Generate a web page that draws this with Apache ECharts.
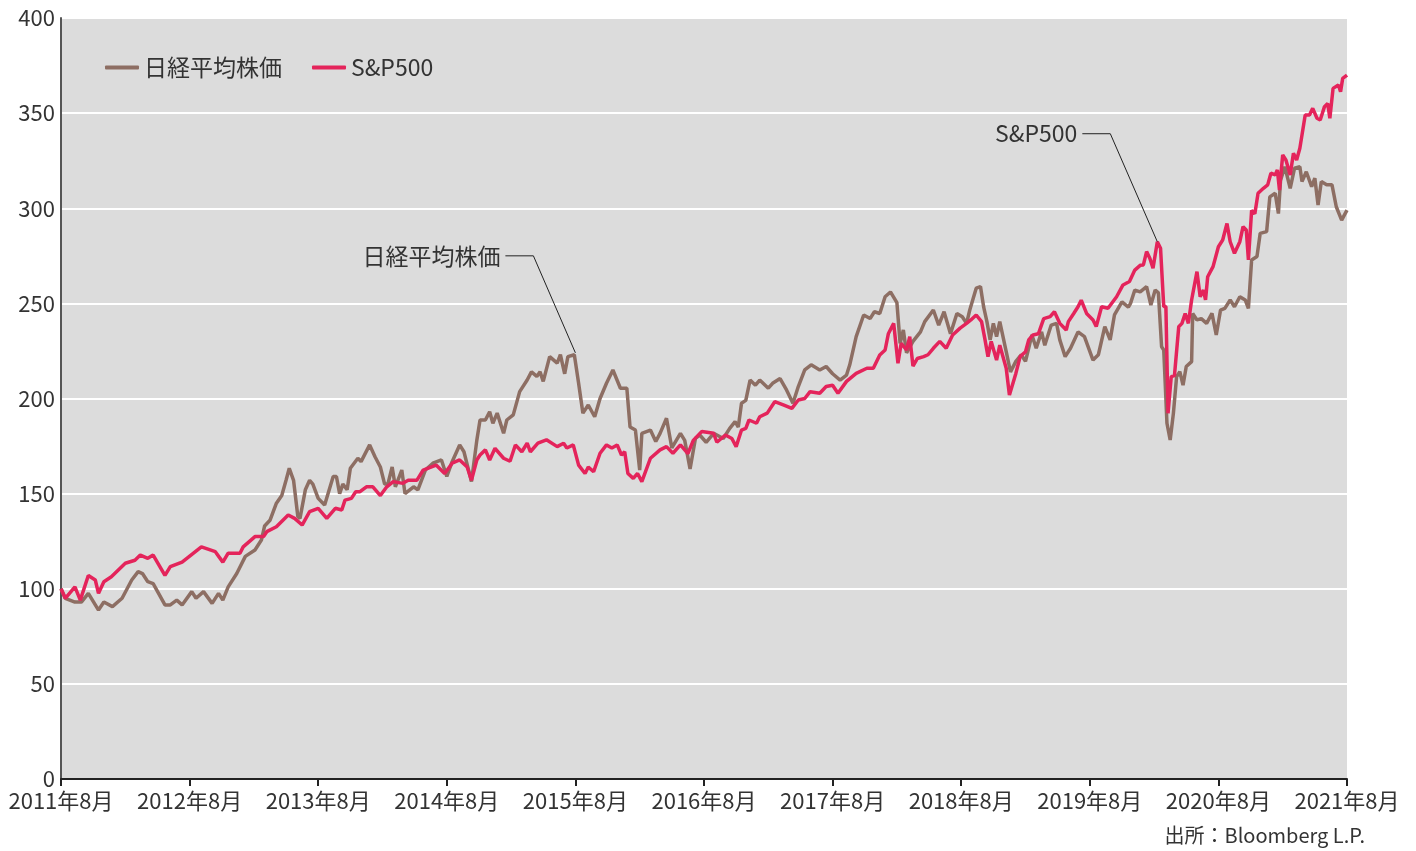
<!DOCTYPE html>
<html>
<head>
<meta charset="utf-8">
<script src="https://cdn.jsdelivr.net/npm/echarts@6/dist/echarts.min.js"></script>
<style>
  html, body { margin: 0; padding: 0; background: #ffffff; }
  #chart { width: 1416px; height: 851px; }
</style>
</head>
<body>
<div id="chart"></div>
<script>
// x = months since 2011年8月, y = index (2011年8月 = 100)
const nikkeiPoints = [
  [0,100],[0.4,95],[1.3,93],[1.9,93],[2.55,97.6],[3.5,88.8],[4,93],[4.8,90.6],[5.7,95],[6.6,104.6],
  [7.2,109],[7.6,108],[8.1,103.7],[8.6,102.7],[9.7,91.5],[10.2,91.5],[10.8,94],[11.3,91.5],[12.2,98.5],[12.6,95],
  [13.3,98.5],[14.1,92.3],[14.7,97.6],[15.1,94],[15.6,101],[16.4,108],[17.2,117],[18.1,120.4],[18.7,125.6],[19,133],
  [19.5,136],[20.1,145],[20.6,149],[21,157],[21.3,163.3],[21.7,157],[22.1,138],[22.3,137],[22.8,152],[23.2,157],
  [23.5,155],[24,147.5],[24.6,144],[25.4,159],[25.7,159],[26,150],[26.3,155],[26.7,152],[27,163.3],[27.7,168.6],
  [28,166.8],[28.8,175.6],[29.3,169.4],[29.8,164],[30.2,155],[30.5,155],[30.9,164],[31.2,153.6],[31.8,162.4],[32.1,150],
  [32.9,153.6],[33.3,152],[34,162.4],[34.7,166],[35.5,167.7],[36,159],[36.5,166.8],[37.2,175.6],[37.6,172],[38.3,156.3],
  [38.8,178],[39.1,188.7],[39.6,188.7],[40,193],[40.3,187],[40.7,192.3],[41.3,181.7],[41.6,188.7],[42.2,191.4],[42.8,203.6],
  [43.5,209.7],[43.9,214],[44.4,211.6],[44.7,214],[45,209],[45.6,222],[46.3,218.6],[46.6,223],[47,213],[47.3,222],
  [47.9,223],[48.3,208],[48.7,192.3],[49.2,196.6],[49.8,190.4],[50.3,200],[50.9,208],[51.5,215],[52.2,205.4],[52.8,205.4],
  [53.1,185],[53.6,183.4],[54,162.4],[54.2,181.7],[55,183.4],[55.5,177.4],[55.9,181.7],[56.5,189.6],[57,174],[57.8,181.7],
  [58.2,178],[58.7,163],[59.2,179],[59.6,180.8],[60.2,177],[60.9,181.7],[61.8,179],[62.4,184.3],[62.9,187.8],[63.2,185],
  [63.5,197.5],[63.9,199],[64.3,209.7],[64.8,207],[65.2,209.7],[66,205.4],[66.4,208],[67.1,210.5],[67.7,204.5],[68.3,197.5],
  [68.8,206.3],[69.4,215],[70,217.7],[70.8,215],[71.4,216.8],[72,213],[72.7,209.7],[73.3,212.3],[73.6,217.7],[74.2,232.5],
  [74.9,243.9],[75.5,242],[75.9,245.6],[76.4,244.7],[76.9,253.5],[77.4,256],[78,250.4],[78.3,229],[78.6,236],[78.9,224],
  [79.5,230],[80.2,235],[80.6,240.4],[81.4,246.5],[81.9,238.6],[82.4,245.6],[83,234],[83.6,244.7],[84.1,243],[84.5,239.5],
  [84.8,246.5],[85.4,258],[85.8,258.8],[86.1,248],[86.4,240.4],[86.7,230.8],[87,239.5],[87.3,232.5],[87.6,240.4],[88.2,224.6],
  [88.6,214],[89.1,219.5],[89.6,223],[90,219.5],[90.6,233.4],[91,226.4],[91.5,235],[91.8,228],[92.4,238.6],[92.9,239.5],
  [93.2,230.8],[93.7,222],[94.2,226.4],[94.9,235],[95.5,232.5],[96.3,220.2],[96.8,223],[97.4,237.8],[97.9,230.8],[98.3,243.9],
  [99,250.8],[99.6,248],[99.8,250],[100.2,257],[100.7,256],[101.3,258.8],[101.7,249.1],[102.1,257],[102.4,255.5],[102.7,227.2],
  [102.9,225.5],[103.2,187],[103.5,178.2],[103.8,192.2],[104.1,211.5],[104.4,214.1],[104.7,207],[105,216.8],[105.5,219.4],[105.6,244.7],
  [106,241.3],[106.4,242],[106.9,239.5],[107.4,244.7],[107.8,233.4],[108.2,246.5],[108.6,247.4],[109.1,251.8],[109.5,248.2],[110,253.5],
  [110.5,251.8],[110.8,247.4],[111.1,272.8],[111.6,274.6],[111.9,286.8],[112.5,287.7],[112.8,306],[113.3,307.9],[113.6,297.2],[113.8,314.8],
  [114.2,321.8],[114.7,310.5],[115.1,321],[115.6,321.8],[115.8,314],[116.2,319.2],[116.7,311.4],[117,315.8],[117.3,301.7],[117.6,314],
  [118.1,312.3],[118.6,312.3],[119,300.8],[119.5,293.8],[120,299]
];

const spPoints = [
  [0,100],[0.4,95],[1.3,101],[1.8,94],[2.55,107],[3.2,104.6],[3.5,97.6],[4,103.7],[4.7,106.3],[6,113.4],
  [6.9,115],[7.4,117.7],[8.1,116],[8.6,117.7],[9.7,107],[10.2,111.6],[11.3,114],[13.1,122],[14.4,119.5],[15.1,114],
  [15.6,118.7],[16.7,118.7],[17,122],[18.1,127.4],[18.9,127.4],[19.2,130],[20.1,132.6],[21.2,138.8],[21.8,137],[22.5,133.5],
  [23.2,140.5],[24,142.3],[24.8,137],[25.6,142.3],[26.2,141.4],[26.5,146.6],[27.1,147.5],[27.5,151],[27.9,151],[28.5,153.6],
  [29.1,153.6],[29.8,149],[30.4,153.6],[31,156.3],[31.9,155.4],[32.4,157],[33.2,157],[33.8,162.4],[35,165],[35.8,160.6],
  [36.5,166],[37.2,167.7],[37.9,164],[38.3,157],[38.8,167.7],[39.1,170.3],[39.6,173],[40,167.7],[40.5,173.8],[41.3,168.6],
  [41.9,167],[42.4,175.6],[43,172],[43.5,176.5],[43.8,172],[44.5,176.5],[45.3,178.3],[46.3,174.7],[46.9,176.5],[47.2,174],
  [47.8,175.6],[48.3,165],[48.9,160.6],[49.2,164],[49.7,161.5],[50.3,171.2],[50.9,175.6],[51.4,174],[51.9,175.6],[52.3,170.3],
  [52.6,172],[52.9,160.6],[53.4,158],[53.8,160.6],[54.2,156.3],[55,168.6],[55.9,173],[56.5,174.7],[57.1,171.2],[57.8,175.6],
  [58.5,171],[59,178],[59.8,182.7],[60.9,181.7],[61.2,177],[62,180.8],[62.6,179],[63,174.7],[63.5,183.4],[63.9,184.3],
  [64.2,188.7],[64.9,187],[65.2,190.4],[65.9,192.3],[66.6,198.3],[67.4,196.6],[68.2,194.8],[68.8,199.2],[69.4,200],[69.9,203.6],
  [70.8,202.8],[71.4,206.3],[72,207],[72.5,202.8],[73.3,209],[74.2,213.2],[75.2,215.9],[75.8,215.9],[76.4,222.9],[76.9,225.5],
  [77.2,234],[77.7,239.5],[78.1,218.5],[78.4,229],[78.9,225.5],[79.2,232.5],[79.5,217],[79.9,221],[80.5,222],[80.9,223],
  [81.4,226.4],[82,230],[82.6,226.4],[83.2,233.4],[83.9,237],[84.5,239.5],[84.9,241.3],[85.4,243.9],[85.9,240.4],[86.2,231.6],
  [86.5,222],[86.8,230],[87.3,220.2],[87.6,228],[88.2,215.9],[88.5,201.8],[89.1,213.2],[89.5,222],[90,224.6],[90.3,230.8],
  [90.7,233.4],[91.2,234],[91.7,242],[92.3,243],[92.7,245.6],[93.2,239.5],[93.8,236],[94,240.4],[94.5,244.7],[94.9,248.2],
  [95.2,251.7],[95.7,244.7],[96.3,241.3],[96.6,237.8],[97.1,248.2],[97.7,247.4],[98.5,253.5],[99.1,259.7],[99.7,261.5],[100.2,267.5],
  [100.7,270],[101,270.2],[101.3,277.2],[101.6,273.7],[101.9,268.5],[102.3,282.4],[102.6,279],[102.9,248.3],[103.1,248.3],[103.3,192.2],
  [103.6,211.5],[103.9,212],[104.3,237.7],[104.6,239.5],[104.9,244.7],[105.2,239.5],[105.5,251.8],[106,266.7],[106.3,253.5],[106.6,257],
  [106.8,251.8],[107,264],[107.5,269.3],[108,279.8],[108.4,283.3],[108.8,292],[109.1,282.4],[109.5,276.3],[110,282.4],[110.3,290.3],
  [110.6,288.6],[110.8,272.8],[111.1,298.9],[111.4,297.1],[111.7,307.9],[112.2,310.5],[112.6,312.3],[112.9,318.4],[113.3,317.5],[113.5,320.2],
  [113.7,309.6],[114,328],[114.3,325.4],[114.7,317.5],[115,328.9],[115.3,325.4],[115.6,331.5],[116.1,349],[116.5,349],[116.8,352.5],
  [117.2,347.3],[117.5,346.4],[117.9,353.4],[118.2,355.1],[118.4,347.3],[118.7,363],[119.2,364.8],[119.4,361.3],[119.6,368.3],[120,370]
];

const seriesNames = ['日経平均株価', 'S&P500'];
const seriesColors = ['#8d6e63', '#e4245b'];
const startYear = 2011;
const sourceText = '出所：Bloomberg L.P.';

const FONT = '"Noto Sans CJK JP", "Noto Sans", sans-serif';

const chart = echarts.init(document.getElementById('chart'));

chart.setOption({
  animation: false,
  backgroundColor: '#ffffff',
  textStyle: { fontFamily: FONT },
  grid: { left: 61, right: 69, top: 18, bottom: 72, show: true, backgroundColor: '#dcdcdc', borderWidth: 0 },
  legend: {
    left: 100,
    top: 51,
    itemWidth: 34,
    itemHeight: 4,
    itemGap: 30,
    icon: 'roundRect',
    textStyle: { fontSize: 23, color: '#333333', fontFamily: FONT },
    data: seriesNames
  },
  xAxis: {
    type: 'value',
    min: 0,
    max: 120,
    interval: 12,
    axisLine: { show: true, lineStyle: { color: '#222222', width: 2 } },
    axisTick: { show: true, length: 7, lineStyle: { color: '#222222', width: 2 } },
    axisLabel: {
      fontSize: 22,
      color: '#333333',
      margin: 11,
      formatter: v => (startYear + v / 12) + '年8月'
    },
    splitLine: { show: false }
  },
  yAxis: {
    type: 'value',
    min: 0,
    max: 400,
    interval: 50,
    axisLine: { show: true, lineStyle: { color: '#555555', width: 2 } },
    axisTick: { show: false },
    axisLabel: { fontSize: 22, color: '#333333', margin: 6 },
    splitLine: { show: true, lineStyle: { color: '#ffffff', width: 2 } }
  },
  series: [
    {
      name: seriesNames[0],
      type: 'line',
      data: nikkeiPoints,
      showSymbol: false,
      color: seriesColors[0],
      lineStyle: { width: 3.5, color: seriesColors[0] },
      z: 2
    },
    {
      name: seriesNames[1],
      type: 'line',
      data: spPoints,
      showSymbol: false,
      color: seriesColors[1],
      lineStyle: { width: 3.5, color: seriesColors[1] },
      z: 3
    }
  ]
});

// callout labels pointing at the line peaks
function callout(point, label, dx, dy) {
  const [px, py] = chart.convertToPixel({ gridIndex: 0 }, point);
  const ex = px + dx, ey = py + dy;
  return [
    {
      type: 'polyline',
      shape: { points: [[ex - 28, ey], [ex, ey], [px, py]] },
      style: { stroke: '#222222', lineWidth: 1, fill: null },
      z: 10
    },
    {
      type: 'text',
      x: ex - 33,
      y: ey,
      style: { text: label, font: '23px ' + FONT, fill: '#333333', align: 'right', verticalAlign: 'middle' },
      z: 10
    }
  ];
}

chart.setOption({
  graphic: [
    ...callout([48, 224], seriesNames[0], -42, -97),
    ...callout([102.3, 282.4], seriesNames[1], -47, -108),
    {
      type: 'text',
      right: 51,
      top: 825,
      style: { text: sourceText, font: '20px ' + FONT, fill: '#333333' }
    }
  ]
});
</script>
</body>
</html>
